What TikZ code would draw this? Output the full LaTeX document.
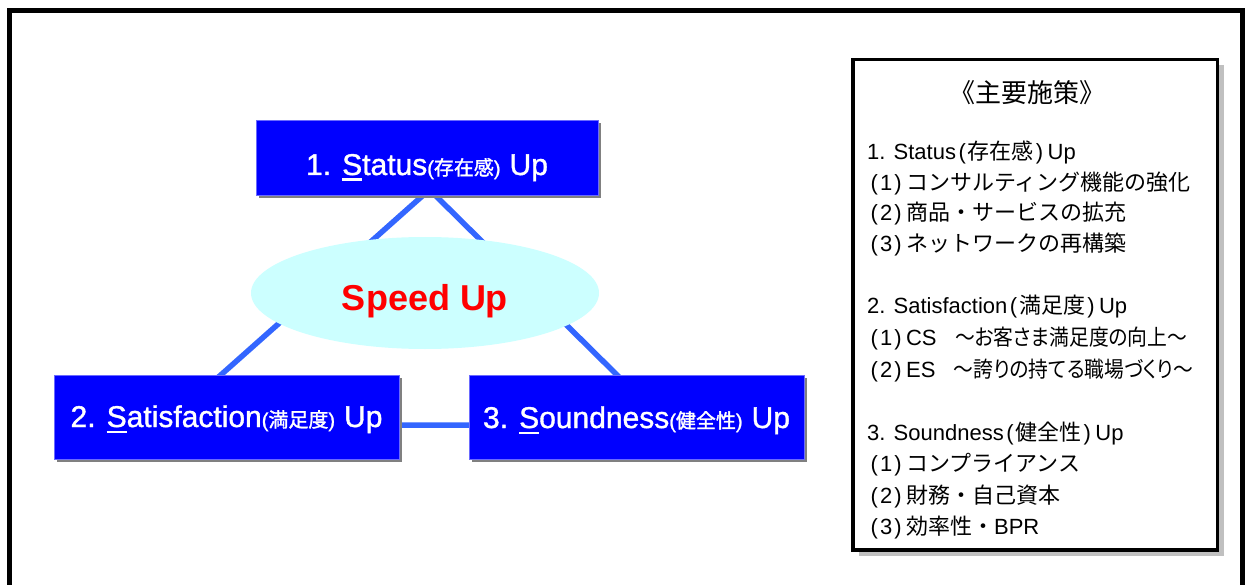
\documentclass[tikz,border=0pt]{standalone}
\usepackage{fontspec}
\setmainfont{Liberation Sans}
\newfontfamily\jp{Noto Sans CJK JP}
\newfontfamily\jpp[RawFeature=+palt, FakeStretch=0.9]{Noto Sans CJK JP}
\newfontfamily\jpb[FakeBold=1.5]{Noto Sans CJK JP}
\newfontfamily\latb[FakeBold=1.2]{Liberation Sans}
\usetikzlibrary{shapes.geometric,shadows}
\definecolor{boxblue}{HTML}{0000FF}
\definecolor{boxedge}{HTML}{6A6AFF}
\definecolor{boxshadow}{HTML}{808080}
\definecolor{linkblue}{HTML}{3366FF}
\definecolor{speedfill}{HTML}{CCFFFF}
\definecolor{panelshadow}{HTML}{C0C0C0}
\newcommand\myul[1]{\setbox0=\hbox{#1}\rlap{\rule[-6pt]{\wd0}{2.5pt}}\box0}
\newcommand\op{\kern2.5pt(\kern2pt}
\newcommand\cp{\kern2pt)\kern4.5pt}
\begin{document}
\begin{tikzpicture}[x=1pt,y=-1pt,
  mainbox/.style={fill=boxblue, draw=boxedge, line width=0.8pt, text=white, inner sep=0pt,
    font=\latb\fontsize{30}{36}\selectfont,
    general shadow={fill=boxshadow, shadow xshift=3pt, shadow yshift=-3pt}},
  link/.style={draw=linkblue, line width=5.5pt},
  pline/.style={anchor=base west, inner sep=0pt, font=\fontsize{22}{26}\selectfont},
  panelbox/.style={draw=black, line width=3.5pt, fill=white,
    general shadow={fill=panelshadow, shadow xshift=6pt, shadow yshift=-6pt}},
]
\useasboundingbox (0,0) rectangle (1246,585);
\clip (0,0) rectangle (1246,585);
\fill[white] (0,0) rectangle (1246,585);
\draw[line width=5pt] (9.5,10.5) rectangle (1242.5,640);

% triangle links
\coordinate (apex) at (429.5,189.6);
\coordinate (bl) at (164.5,425);
\coordinate (br) at (667.6,425);
\draw[link] (apex) -- (bl) -- (br) -- cycle;

% central ellipse
\node[ellipse, fill=speedfill, minimum width=348pt, minimum height=112pt, inner sep=0pt,
  text=red, font=\fontsize{36}{42}\selectfont\bfseries, text height=40pt, text depth=6pt]
  (speed) at (425,293) {Speed Up};

% three boxes
\node[mainbox, minimum width=342pt, minimum height=75pt, text height=40pt, text depth=5pt]
  (s1) at (427,157.5) {1. \myul{S}tatus{\fontsize{20}{24}\selectfont({\jpb 存在感})}\hspace{9pt}Up};
\node[mainbox, minimum width=345pt, minimum height=84pt, text height=30pt, text depth=10pt]
  (s2) at (226.5,417) {2. \myul{S}atisfaction{\fontsize{20}{24}\selectfont({\jpb 満足度})}\hspace{9pt}Up};
\node[mainbox, minimum width=335pt, minimum height=84pt, text height=30pt, text depth=8pt]
  (s3) at (636.5,417) {3. \myul{S}oundness{\fontsize{20}{24}\selectfont({\jpb 健全性})}\hspace{9pt}Up};

% panel
\node[panelbox, minimum width=364.5pt, minimum height=490.5pt] (panel) at (1035.25,304.75) {};
\node[inner sep=0pt, font=\jp\fontsize{26}{30}\selectfont] (title) at (1027,93) {《主要施策》};
\node[pline] (h1) at (867,160) {1. Status\op{\jp 存在感}\cp Up};
\node[pline] (a1) at (868,190.5) {\op 1\cp{\jp コンサルティング機能の強化}};
\node[pline] (a2) at (868,221) {\op 2\cp{\jp 商品・サービスの拡充}};
\node[pline] (a3) at (868,251.5) {\op 3\cp{\jp ネットワークの再構築}};
\node[pline] (h2) at (867,313.5) {2. Satisfaction\op{\jp 満足度}\cp Up};
\node[pline] (b1) at (868,345) {\op 1\cp CS\ \ \ {\jpp ～お客さま満足度の向上～}};
\node[pline] (b2) at (868,377) {\op 2\cp ES\ \ \ {\jpp ～誇りの持てる職場づくり～}};
\node[pline] (h3) at (867,440) {3. Soundness\op{\jp 健全性}\cp Up};
\node[pline] (c1) at (868,471.5) {\op 1\cp{\jp コンプライアンス}};
\node[pline] (c2) at (868,503) {\op 2\cp{\jp 財務・自己資本}};
\node[pline] (c3) at (868,534.5) {\op 3\cp{\jp 効率性・}BPR};
\end{tikzpicture}
\end{document}
